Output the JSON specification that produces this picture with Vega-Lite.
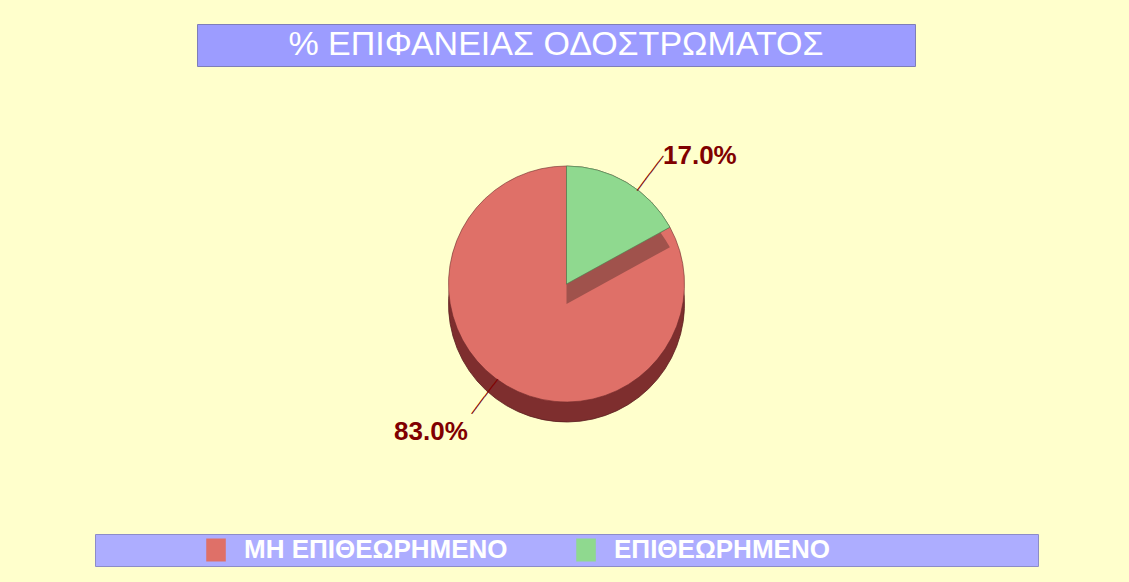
{
  "$schema": "https://vega.github.io/schema/vega-lite/v6.json",
  "background": "#FFFFCC",
  "padding": {"left": 94, "top": 23, "right": 92, "bottom": 16},
  "spacing": 0,
  "config": {"view": {"stroke": null}, "font": "Liberation Sans", "concat": {"spacing": 0}},
  "datasets": {
    "share": [
      {"status": "ΕΠΙΘΕΩΡΗΜΕΝΟ", "pct": 17.0, "label": "17.0%", "ord": 1},
      {"status": "ΜΗ ΕΠΙΘΕΩΡΗΜΕΝΟ", "pct": 83.0, "label": "83.0%", "ord": 2}
    ],
    "heading": [{"title": "% ΕΠΙΦΑΝΕΙΑΣ ΟΔΟΣΤΡΩΜΑΤΟΣ"}]
  },
  "vconcat": [
    {
      "spacing": 0,
      "hconcat": [
        {
          "width": 101,
          "height": 42,
          "data": {"name": "heading"},
          "mark": {"type": "text", "opacity": 0},
          "encoding": {"text": {"value": ""}}
        },
        {
          "width": 718,
          "height": 42,
          "view": {"fill": "#9C9CFF", "stroke": "#7E7EB8", "strokeWidth": 1},
          "data": {"name": "heading"},
          "mark": {"type": "text", "color": "#FFFFFF", "fontSize": 34, "font": "Liberation Sans", "baseline": "middle", "align": "center"},
          "encoding": {"text": {"field": "title"}}
        }
      ]
    },
    {
      "width": 943,
      "height": 466,
      "data": {"name": "share"},
      "encoding": {
        "theta": {"field": "pct", "type": "quantitative", "stack": true},
        "order": {"field": "ord", "type": "quantitative"}
      },
      "layer": [
        {"mark": {"type": "arc", "outerRadius": 118, "yOffset": 4, "fill": "#7E2E2E", "stroke": "#5A1E1E", "strokeWidth": 0.8}},
        {
          "mark": {"type": "arc", "outerRadius": 118, "yOffset": -16, "stroke": "#6E2A2A", "strokeWidth": 0.6},
          "encoding": {"color": {"field": "status", "type": "nominal", "scale": {"domain": ["ΜΗ ΕΠΙΘΕΩΡΗΜΕΝΟ", "ΕΠΙΘΕΩΡΗΜΕΝΟ"], "range": ["#DF7068", "#8FD98F"]}, "legend": null}}
        },
        {
          "mark": {"type": "arc", "outerRadius": 118, "yOffset": 4, "fill": "#A0524C"},
          "encoding": {"opacity": {"condition": {"test": "datum.status === 'ΕΠΙΘΕΩΡΗΜΕΝΟ'", "value": 1}, "value": 0}}
        },
        {
          "mark": {"type": "arc", "outerRadius": 118, "yOffset": -16, "stroke": "#4E7A4E", "strokeWidth": 0.6},
          "encoding": {
            "color": {"field": "status", "type": "nominal", "scale": {"domain": ["ΜΗ ΕΠΙΘΕΩΡΗΜΕΝΟ", "ΕΠΙΘΕΩΡΗΜΕΝΟ"], "range": ["#DF7068", "#8FD98F"]}, "legend": null},
            "opacity": {"condition": {"test": "datum.status === 'ΕΠΙΘΕΩΡΗΜΕΝΟ'", "value": 1}, "value": 0}
          }
        },
        {
          "mark": {"type": "text", "radius": 139, "xOffset": 13, "yOffset": -7, "angle": 307, "font": "DejaVu Sans Mono", "fontSize": 12, "color": "#800000", "align": "center", "baseline": "middle", "text": "──────"},
          "encoding": {"opacity": {"condition": {"test": "datum.status === 'ΕΠΙΘΕΩΡΗΜΕΝΟ'", "value": 1}, "value": 0}}
        },
        {
          "mark": {"type": "text", "radius": 139, "xOffset": -11, "yOffset": -23, "angle": 307, "font": "DejaVu Sans Mono", "fontSize": 12, "color": "#800000", "align": "center", "baseline": "middle", "text": "──────"},
          "encoding": {"opacity": {"condition": {"test": "datum.status === 'ΜΗ ΕΠΙΘΕΩΡΗΜΕΝΟ'", "value": 1}, "value": 0}}
        },
        {
          "mark": {"type": "text", "radius": 150, "xOffset": 57, "yOffset": -15, "fontSize": 26, "fontWeight": "bold", "color": "#800000", "align": "center", "baseline": "middle"},
          "encoding": {
            "text": {"field": "label"},
            "opacity": {"condition": {"test": "datum.status === 'ΕΠΙΘΕΩΡΗΜΕΝΟ'", "value": 1}, "value": 0}
          }
        },
        {
          "mark": {"type": "text", "radius": 170, "xOffset": -49, "yOffset": -14, "fontSize": 26, "fontWeight": "bold", "color": "#800000", "align": "center", "baseline": "middle"},
          "encoding": {
            "text": {"field": "label"},
            "opacity": {"condition": {"test": "datum.status === 'ΜΗ ΕΠΙΘΕΩΡΗΜΕΝΟ'", "value": 1}, "value": 0}
          }
        }
      ]
    },
    {
      "width": 943,
      "height": 32,
      "view": {"fill": "#ADADFF", "stroke": "#8C8CC8", "strokeWidth": 1},
      "data": {"name": "share"},
      "encoding": {
        "x": {"field": "status", "type": "nominal", "axis": null, "scale": {"type": "point", "domain": ["ΜΗ ΕΠΙΘΕΩΡΗΜΕΝΟ", "ΕΠΙΘΕΩΡΗΜΕΝΟ"], "padding": 0.7743, "align": 0.2112}}
      },
      "layer": [
        {
          "mark": {"type": "point", "shape": "M-0.85,-1H0.85V1H-0.85Z", "size": 529, "filled": true, "opacity": 1},
          "encoding": {"color": {"field": "status", "type": "nominal", "scale": {"domain": ["ΜΗ ΕΠΙΘΕΩΡΗΜΕΝΟ", "ΕΠΙΘΕΩΡΗΜΕΝΟ"], "range": ["#DF6A6A", "#8FD98F"]}, "legend": null}}
        },
        {
          "mark": {"type": "text", "align": "left", "baseline": "middle", "dx": 28, "fontSize": 26, "fontWeight": "bold", "color": "#FFFFFF"},
          "encoding": {"text": {"field": "status"}}
        }
      ]
    }
  ]
}
